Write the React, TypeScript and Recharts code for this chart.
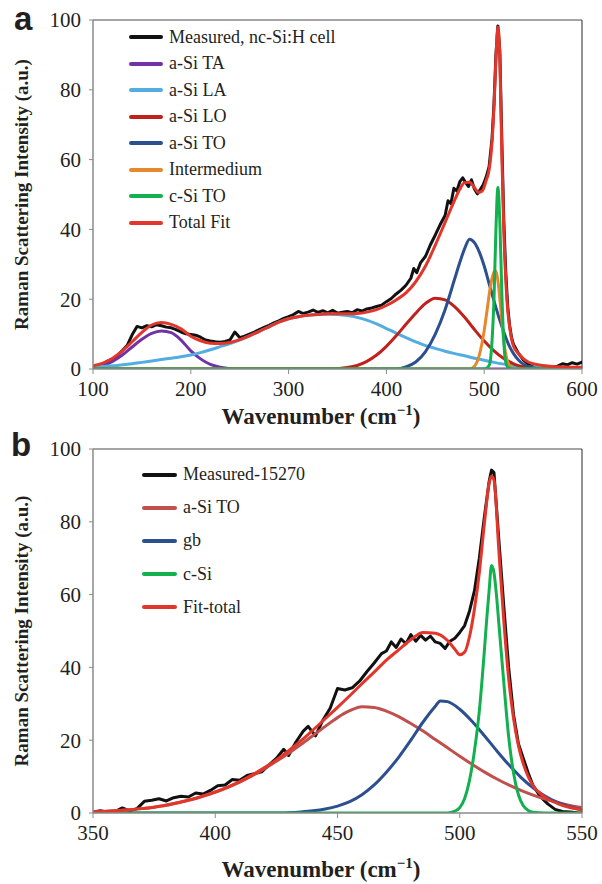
import React from "react"
import { LineChart, Line, XAxis, YAxis, ReferenceLine, Label } from "recharts"

// ---- panel a: nc-Si:H cell, 100-600 cm-1 ----
const aTicksX = [100, 200, 300, 400, 500, 600]
const ticksY = [0, 20, 40, 60, 80, 100]

const aMeasX = [100, 105, 110, 115, 120, 125, 130, 135, 140, 145, 150, 155, 160, 165, 170, 175, 180, 185, 190, 195, 200, 205, 210, 215, 220, 225, 230, 235, 240, 245, 250, 255, 260, 265, 270, 275, 280, 285, 290, 295, 300, 305, 310, 315, 320, 325, 330, 335, 340, 345, 350, 355, 360, 365, 370, 375, 380, 385, 390, 395, 400, 405, 410, 415, 420, 425, 428, 431, 435, 440, 445, 450, 455, 460, 463, 466, 469, 472, 475, 478, 481, 484, 487, 490, 493, 496, 499, 502, 505, 508, 510, 512, 514, 516, 518, 520, 522, 524, 526, 528, 530, 535, 540, 545, 550, 555, 560, 565, 570, 575, 580, 585, 590, 595, 600]
const aMeasY = [0.5, 1.0, 1.3, 2.3, 2.5, 3.9, 5.3, 6.8, 9.8, 12.2, 11.8, 12.4, 12.1, 12.7, 12.4, 12, 11.8, 11.3, 10.6, 10.1, 9.9, 9.7, 9.1, 8.3, 8, 7.8, 7.7, 7.9, 8.3, 10.6, 9, 9.4, 10, 10.6, 11.3, 11.9, 12.5, 13.2, 13.8, 14.5, 15, 15.6, 16.5, 15.9, 16.3, 16.9, 16.2, 16.7, 16.1, 16.8, 16, 16.3, 16.5, 16.1, 17, 16.6, 17.2, 17.5, 17.9, 18.3, 19.3, 20.2, 21.5, 22.6, 24, 26, 28.8, 27.6, 30.5, 32.3, 35.6, 38.4, 41.4, 44, 48.2, 47.4, 51.8, 51, 53.6, 54.8, 53.4, 52.3, 54.2, 51.6, 50.2, 51.4, 52.8, 55, 58, 66, 76, 90, 98.3, 91, 66, 43, 28, 18, 12.5, 9, 7, 4.5, 2.6, 1.4, 0.6, 0.3, 0, 0.2, 0.5, 0.8, 1.5, 1.2, 1.8, 1.4, 2]

const aTaX = [100, 110, 120, 130, 140, 150, 160, 170, 180, 190, 200, 210, 220, 230, 240, 250, 600]
const aTaY = [0.4, 1, 2.2, 4, 6.3, 8.5, 10.2, 10.9, 10.4, 8.3, 5.2, 2.9, 1.3, 0.5, 0.1, 0, 0]

const aLaX = [100, 110, 120, 130, 140, 150, 160, 170, 180, 190, 200, 210, 220, 230, 240, 250, 260, 270, 280, 290, 300, 310, 320, 330, 340, 350, 360, 370, 380, 390, 400, 410, 420, 430, 440, 450, 460, 470, 480, 490, 500, 510, 520, 530, 540, 550, 560, 570, 580, 590, 600]
const aLaY = [0.5, 0.7, 0.9, 1.2, 1.5, 1.9, 2.3, 2.7, 3.1, 3.5, 4, 4.7, 5.5, 6.4, 7.3, 8.3, 9.5, 10.8, 12.1, 13.4, 14.4, 15, 15.4, 15.6, 15.7, 15.6, 15.3, 14.8, 14, 12.9, 11.6, 10.3, 9, 7.8, 6.7, 5.9, 5.1, 4.4, 3.8, 3.1, 2.5, 1.9, 1.4, 1, 0.7, 0.5, 0.3, 0.2, 0.1, 0.1, 0]

const aLoX = [100, 340, 350, 360, 370, 380, 390, 400, 410, 420, 430, 440, 450, 460, 470, 480, 490, 500, 510, 520, 530, 540, 550, 560, 600]
const aLoY = [0, 0, 0.1, 0.4, 1, 2.2, 4, 6.5, 9.5, 12.8, 16, 18.8, 20.3, 19.8, 17.8, 14.8, 11.3, 8, 5.2, 3, 1.5, 0.6, 0.2, 0, 0]

const aToX = [100, 410, 420, 430, 440, 450, 460, 470, 475, 480, 485, 490, 495, 500, 505, 510, 515, 520, 525, 530, 535, 540, 550, 560, 600]
const aToY = [0, 0, 0.6, 2, 5, 10, 17, 26, 30.5, 34.5, 37.2, 36.2, 33.5, 29.5, 24.5, 19.5, 14.8, 10.6, 7, 4.4, 2.6, 1.4, 0.3, 0, 0]

const aIntX = [100, 485, 490, 495, 500, 503, 506, 509, 511, 513, 515, 517, 519, 521, 524, 528, 532, 600]
const aIntY = [0, 0, 0.8, 4, 11, 17, 23, 27, 28.2, 27, 23, 17, 11, 6, 2, 0.3, 0, 0]

const aCsiX = [100, 500, 505, 508, 510, 512, 514, 516, 518, 520, 522, 525, 530, 600]
const aCsiY = [0, 0, 1, 8, 20, 40, 52, 42, 22, 8, 2, 0.3, 0, 0]

const aFitX = [100, 110, 120, 130, 140, 150, 160, 170, 180, 190, 200, 210, 220, 230, 240, 250, 260, 270, 280, 290, 300, 310, 320, 330, 340, 350, 360, 370, 380, 390, 400, 410, 420, 430, 440, 450, 460, 470, 475, 480, 485, 490, 494, 498, 502, 505, 508, 510, 512, 514, 516, 518, 520, 522, 524, 526, 528, 530, 535, 540, 545, 550, 560, 570, 580, 590, 600]
const aFitY = [0.9, 1.7, 3.1, 5.2, 7.8, 10.5, 12.6, 13.3, 12.8, 11.5, 9.4, 8.1, 7.4, 7.3, 7.6, 8.4, 9.5, 10.8, 12.1, 13.4, 14.4, 15, 15.4, 15.6, 15.8, 15.8, 15.8, 15.9, 16.3, 17, 18.2, 19.8, 21.8, 25, 29.5, 35.5, 42, 48.5, 51.5, 53.4, 53.5, 52, 50.6, 51, 54, 57, 65, 75, 89, 98, 89, 62, 40, 26, 17, 12, 8.5, 6.5, 4.5, 3, 2, 1.5, 1, 0.7, 0.6, 0.5, 0.5]

// ---- panel b: Measured-15270, 350-550 cm-1 ----
const bTicksX = [350, 400, 450, 500, 550]

const bMeasX = [350, 353, 356, 359, 362, 365, 368, 371, 374, 377, 380, 383, 386, 389, 392, 395, 398, 401, 404, 407, 410, 413, 416, 419, 422, 425, 428, 430, 433, 436, 438, 441, 444, 447, 450, 453, 456, 459, 462, 465, 468, 470, 472, 474, 476, 478, 480, 482, 484, 486, 488, 490, 492, 494, 496, 498, 500, 502, 504, 506, 508, 510, 512, 513, 514, 516, 518, 520, 522, 524, 526, 528, 530, 533, 536, 539, 542, 545, 548, 550]
const bMeasY = [0.3, 0.6, 0.2, 0.4, 1.4, 0.6, 1.2, 3.2, 3.5, 3.9, 3.3, 4.2, 4.6, 4.4, 5.5, 5.2, 6.2, 7.5, 7.7, 9.2, 9, 10.3, 10.8, 11.3, 13.2, 15, 17.5, 15.8, 19.5, 22.5, 23.8, 21.2, 25.5, 28.8, 34.2, 33.8, 34.4, 36.2, 38.8, 41.2, 43.8, 44.5, 47, 45.5, 47.8, 46.5, 49, 47.2, 48.8, 47.5, 48.6, 47, 46.6, 45.2, 47.2, 48, 49.6, 51.5, 55.5, 61, 70, 81, 91, 94.2, 93.5, 75, 57, 40, 27, 19, 15, 11, 7.5, 4.5, 2.5, 1, 0.4, 0.3, 0.1, 0]

const bAsiX = [350, 355, 360, 365, 370, 375, 380, 385, 390, 395, 400, 405, 410, 415, 420, 425, 430, 435, 440, 445, 450, 455, 460, 465, 470, 475, 480, 485, 490, 495, 500, 505, 510, 515, 520, 525, 530, 535, 540, 545, 550]
const bAsiY = [0.3, 0.5, 0.7, 0.9, 1.2, 1.6, 2.1, 2.8, 3.6, 4.6, 5.7, 7, 8.5, 10.2, 12.1, 14.2, 16.4, 18.8, 21.3, 23.8, 26.2, 28.1, 29.2, 29, 28, 26.5, 24.6, 22.5, 20.2, 17.9, 15.6, 13.4, 11.3, 9.4, 7.7, 6.2, 4.9, 3.8, 2.9, 2.1, 1.5]

const bGbX = [350, 425, 430, 435, 440, 445, 450, 455, 460, 465, 470, 475, 480, 485, 490, 492, 495, 500, 505, 510, 515, 520, 525, 530, 535, 540, 545, 550]
const bGbY = [0, 0, 0.1, 0.3, 0.6, 1.1, 1.9, 3.1, 5, 7.7, 11.2, 15.3, 20, 25, 29.3, 30.8, 30.6, 28.5, 25.2, 21.3, 17.2, 13.3, 9.8, 6.9, 4.6, 2.9, 1.7, 0.9]

const bCsiX = [350, 495, 498, 500, 502, 504, 506, 508, 510, 511, 512, 513, 514, 515, 516, 518, 520, 522, 524, 526, 528, 530, 535, 550]
const bCsiY = [0, 0, 0.5, 1.5, 4, 9, 17, 28, 44, 53, 61, 68, 66, 60, 52, 36, 21, 11, 5, 2, 0.7, 0.2, 0, 0]

const bFitX = [350, 355, 360, 365, 370, 375, 380, 385, 390, 395, 400, 405, 410, 415, 420, 425, 430, 435, 440, 445, 450, 455, 460, 465, 470, 475, 480, 485, 490, 495, 498, 500, 502, 504, 506, 508, 510, 512, 513, 514, 516, 518, 520, 522, 524, 526, 528, 530, 535, 540, 545, 550]
const bFitY = [0.3, 0.4, 0.6, 0.9, 1.2, 1.6, 2.2, 2.9, 3.7, 4.7, 5.8, 7.1, 8.6, 10.4, 12.4, 14.6, 17.1, 19.8, 22.8, 25.9, 29, 32.2, 35.5, 38.7, 42, 44.8, 47.6, 49.6, 49.4, 47.4, 45, 43.5, 44.2, 48.5, 56, 66, 79, 90.5, 92.5, 91.5, 72, 53, 37, 26, 18.5, 13.5, 10, 7.5, 4.3, 2.6, 1.5, 0.9]

type Pt = { x: number; y: number }
const zip = (xs: number[], ys: number[]): Pt[] => xs.map((x, i) => ({ x, y: ys[i] }))

const serif = '"Liberation Serif", "Times New Roman", serif'
const ink = "#231f20"

const panelA = [
  { name: "Measured, nc-Si:H cell", color: "#111111", data: zip(aMeasX, aMeasY), type: "linear" },
  { name: "a-Si TA", color: "#7232a6", data: zip(aTaX, aTaY) },
  { name: "a-Si LA", color: "#53ade0", data: zip(aLaX, aLaY) },
  { name: "a-Si LO", color: "#c0211b", data: zip(aLoX, aLoY) },
  { name: "a-Si TO", color: "#2c4f8f", data: zip(aToX, aToY) },
  { name: "Intermedium", color: "#e7882e", data: zip(aIntX, aIntY) },
  { name: "c-Si TO", color: "#12b04e", data: zip(aCsiX, aCsiY) },
  { name: "Total Fit", color: "#e3362a", data: zip(aFitX, aFitY) },
]

const panelB = [
  { name: "Measured-15270", color: "#111111", data: zip(bMeasX, bMeasY), type: "linear" },
  { name: "a-Si TO", color: "#c0504d", data: zip(bAsiX, bAsiY) },
  { name: "gb", color: "#2c4f8f", data: zip(bGbX, bGbY) },
  { name: "c-Si", color: "#12b04e", data: zip(bCsiX, bCsiY) },
  { name: "Fit-total", color: "#e3362a", data: zip(bFitX, bFitY) },
]

function SeriesLegend({ series, left, top, rowH, lineW }: any) {
  return (
    <div style={{ position: "absolute", left, top, fontFamily: serif, fontSize: 18, color: ink }}>
      {series.map((s: any) => (
        <div key={s.name} style={{ display: "flex", alignItems: "center", height: rowH }}>
          <span style={{ display: "inline-block", width: lineW, height: 4, borderRadius: 2, background: s.color, marginRight: 6 }} />
          <span style={{ whiteSpace: "nowrap" }}>{s.name}</span>
        </div>
      ))}
    </div>
  )
}

function YTitle(props: any) {
  const vb = props.viewBox || {}
  const cx = 21
  const cy = vb.y + vb.height / 2
  return (
    <text x={cx} y={cy} transform={`rotate(-90 ${cx} ${cy})`} textAnchor="middle" dominantBaseline="central"
      fontFamily={serif} fontWeight="bold" fontSize={19} fill={ink}>
      Raman Scattering Intensity (a.u.)
    </text>
  )
}

function xTitle(dy: number) {
  return (props: any) => {
    const vb = props.viewBox || {}
    const cx = 321
    const cy = vb.y + dy
    return (
      <text x={cx} y={cy} textAnchor="middle" fontFamily={serif} fontWeight="bold" fontSize={23} fill={ink}>
        Wavenumber (cm<tspan fontSize={15} dy={-9}>−1</tspan><tspan dy={9}>)</tspan>
      </text>
    )
  }
}

function Spectrum({ series, domainX, ticksX, titleDy, height, top, marginTop, legend }: any) {
  const tickStyle = { fill: ink, fontSize: 21, fontFamily: serif }
  return (
    <div style={{ position: "absolute", left: 0, top, width: 602, height }}>
      <LineChart width={602} height={height} margin={{ top: marginTop, right: 20, bottom: 41, left: 33 }}>
        <XAxis type="number" dataKey="x" domain={domainX} ticks={ticksX} allowDataOverflow
          axisLine={{ stroke: "#8a8a8a", strokeWidth: 1.5 }} tickLine={{ stroke: "#8a8a8a" }}
          tickSize={5} tickMargin={7} tick={tickStyle} height={30}>
          <Label content={xTitle(titleDy)} />
        </XAxis>
        <YAxis type="number" domain={[0, 100]} ticks={ticksY} allowDataOverflow width={60}
          axisLine={{ stroke: "#8a8a8a", strokeWidth: 1.5 }} tickLine={{ stroke: "#8a8a8a" }}
          tickSize={4} tickMargin={8} tick={tickStyle}>
          <Label content={YTitle} />
        </YAxis>
        <ReferenceLine y={100} stroke="#4a4a4a" strokeWidth={1.2} />
        <ReferenceLine x={domainX[1]} stroke="#4a4a4a" strokeWidth={1.2} />
        {series.map((s: any) => (
          <Line key={s.name} data={s.data} dataKey="y" name={s.name} stroke={s.color} strokeWidth={3}
            type={s.type || "monotone"} dot={false} activeDot={false} isAnimationActive={false}
            strokeLinejoin="round" strokeLinecap="round" />
        ))}
      </LineChart>
      <SeriesLegend series={series} {...legend} />
    </div>
  )
}

export default function App() {
  return (
    <div style={{ position: "absolute", left: 0, top: 0, width: 602, height: 884, background: "#fff" }}>
      <Spectrum series={panelA} domainX={[100, 600]} ticksX={aTicksX} titleDy={55} height={440} top={0} marginTop={20}
        legend={{ left: 129, top: 24, rowH: 26.5, lineW: 34 }} />
      <Spectrum series={panelB} domainX={[350, 550]} ticksX={bTicksX} titleDy={64} height={454} top={430} marginTop={19}
        legend={{ left: 142, top: 28, rowH: 33.2, lineW: 35 }} />
      <svg width={602} height={884} style={{ position: "absolute", left: 0, top: 0, pointerEvents: "none" }}>
        <text x={14} y={30} fontFamily='"Liberation Sans", Arial, sans-serif' fontWeight="bold" fontSize={33} fill={ink}>a</text>
        <text x={11} y={456} fontFamily='"Liberation Sans", Arial, sans-serif' fontWeight="bold" fontSize={33} fill={ink}>b</text>
      </svg>
    </div>
  )
}
